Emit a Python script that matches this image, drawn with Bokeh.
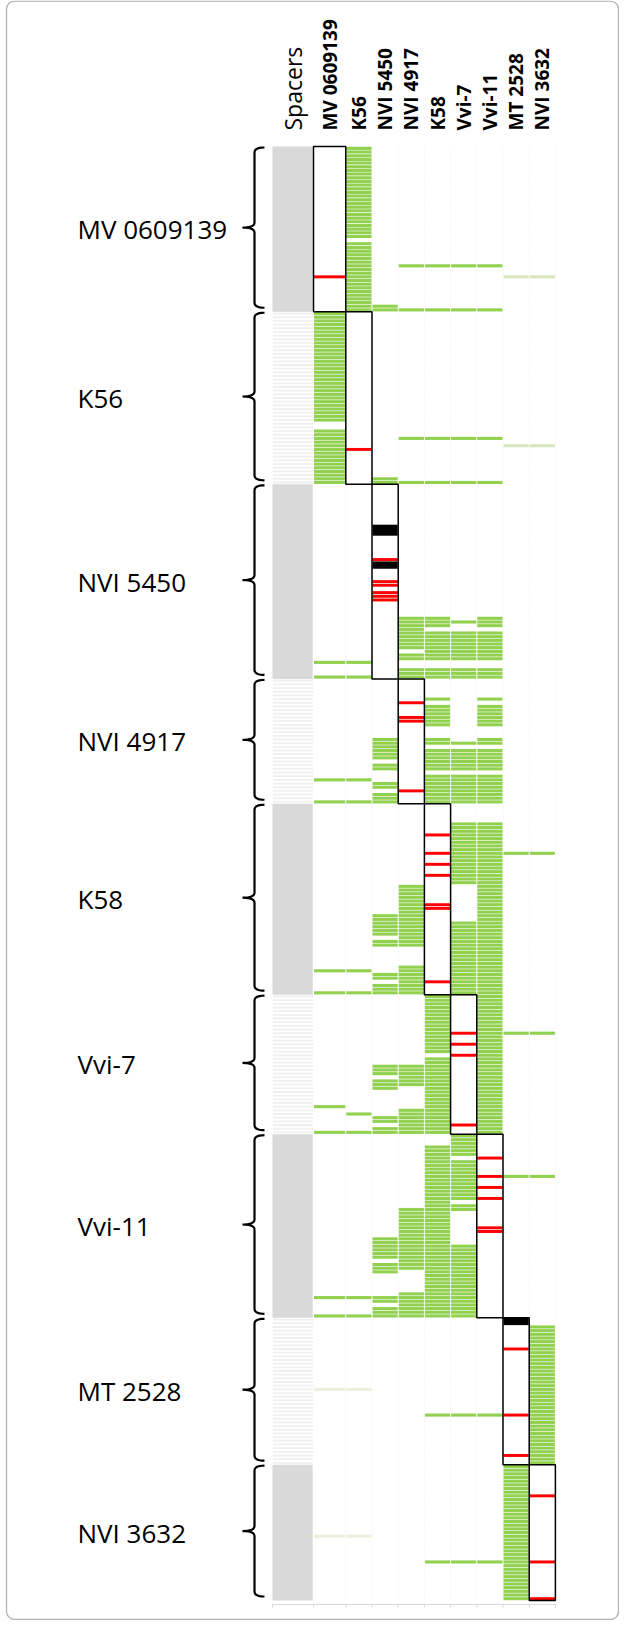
import numpy as np
from bokeh.plotting import figure
from bokeh.models import Range1d, BoxAnnotation
from bokeh.embed import file_html
from bokeh.resources import INLINE
from bokeh.core.properties import value

# ---------------- data ----------------
strains = ["MV 0609139", "K56", "NVI 5450", "NVI 4917", "K58", "Vvi-7", "Vvi-11", "MT 2528", "NVI 3632"]
spacer_header = "Spacers"
spacer_counts = [45, 47, 53, 34, 52, 38, 50, 40, 37]

# segments per block: (columns, first spacer, last spacer, kind)
# kinds: g = shared spacer, p = partial match, q = weak match, r = marked spacer, k = black (duplicated)
segs_MV_0609139 = [
    (["K56"], 0, 24, "g"), (["K56"], 26, 44, "g"),
    (["NVI 5450"], 43, 44, "g"),
    (["NVI 4917", "K58", "Vvi-7", "Vvi-11"], 32, 32, "g"),
    (["NVI 4917", "K58", "Vvi-7", "Vvi-11"], 44, 44, "g"),
    (["MT 2528", "NVI 3632"], 35, 35, "p"),
    (["MV 0609139"], 35, 35, "r"),
]
segs_K56 = [
    (["MV 0609139"], 0, 29, "g"), (["MV 0609139"], 32, 46, "g"),
    (["NVI 5450"], 45, 46, "g"),
    (["NVI 4917", "K58", "Vvi-7", "Vvi-11"], 34, 34, "g"),
    (["NVI 4917", "K58", "Vvi-7", "Vvi-11"], 46, 46, "g"),
    (["MT 2528", "NVI 3632"], 36, 36, "p"),
    (["K56"], 37, 37, "r"),
]
segs_NVI_5450 = [
    (["MV 0609139", "K56"], 48, 48, "g"), (["MV 0609139", "K56"], 52, 52, "g"),
    (["NVI 5450"], 11, 13, "k"), (["NVI 5450"], 20, 20, "r"), (["NVI 5450"], 21, 22, "k"),
    (["NVI 5450"], 26, 27, "r"), (["NVI 5450"], 29, 31, "r"),
    (["NVI 4917"], 36, 44, "g"), (["NVI 4917"], 46, 47, "g"),
    (["K58", "Vvi-11"], 36, 38, "g"), (["Vvi-7"], 37, 37, "g"),
    (["K58", "Vvi-7", "Vvi-11"], 40, 47, "g"),
    (["NVI 4917", "K58", "Vvi-7", "Vvi-11"], 50, 52, "g"),
]
segs_NVI_4917 = [
    (["MV 0609139", "K56"], 27, 27, "g"), (["MV 0609139", "K56"], 33, 33, "g"),
    (["NVI 5450"], 16, 21, "g"), (["NVI 5450"], 23, 24, "g"),
    (["NVI 5450"], 28, 29, "g"), (["NVI 5450"], 31, 33, "g"),
    (["NVI 4917"], 6, 6, "r"), (["NVI 4917"], 10, 11, "r"), (["NVI 4917"], 30, 30, "r"),
    (["K58", "Vvi-11"], 5, 5, "g"), (["K58", "Vvi-11"], 7, 12, "g"), (["K58", "Vvi-11"], 16, 17, "g"),
    (["Vvi-7"], 17, 17, "g"),
    (["K58", "Vvi-7", "Vvi-11"], 19, 24, "g"), (["K58", "Vvi-7", "Vvi-11"], 26, 33, "g"),
]
segs_K58 = [
    (["MV 0609139", "K56"], 45, 45, "g"), (["MV 0609139", "K56"], 51, 51, "g"),
    (["NVI 5450"], 30, 35, "g"), (["NVI 5450"], 37, 38, "g"),
    (["NVI 5450"], 46, 47, "g"), (["NVI 5450"], 49, 51, "g"),
    (["NVI 4917"], 22, 38, "g"), (["NVI 4917"], 44, 51, "g"),
    (["K58"], 8, 8, "r"), (["K58"], 13, 13, "r"), (["K58"], 16, 16, "r"),
    (["K58"], 19, 19, "r"), (["K58"], 27, 28, "r"), (["K58"], 48, 48, "r"),
    (["Vvi-7"], 5, 21, "g"), (["Vvi-7"], 32, 51, "g"),
    (["Vvi-11"], 5, 51, "g"),
    (["MT 2528", "NVI 3632"], 13, 13, "g"),
]
segs_Vvi_7 = [
    (["MV 0609139"], 30, 30, "g"), (["K56"], 32, 32, "g"), (["MV 0609139", "K56"], 37, 37, "g"),
    (["NVI 5450"], 19, 21, "g"), (["NVI 5450"], 23, 25, "g"),
    (["NVI 5450"], 33, 34, "g"), (["NVI 5450"], 36, 37, "g"),
    (["NVI 4917"], 19, 24, "g"), (["NVI 4917"], 31, 37, "g"),
    (["K58"], 0, 15, "g"), (["K58"], 17, 37, "g"),
    (["Vvi-7"], 10, 10, "r"), (["Vvi-7"], 13, 13, "r"), (["Vvi-7"], 16, 16, "r"), (["Vvi-7"], 35, 35, "r"),
    (["Vvi-11"], 0, 37, "g"),
    (["MT 2528", "NVI 3632"], 10, 10, "g"),
]
segs_Vvi_11 = [
    (["MV 0609139", "K56"], 44, 44, "g"), (["MV 0609139", "K56"], 49, 49, "g"),
    (["NVI 5450"], 28, 33, "g"), (["NVI 5450"], 35, 37, "g"),
    (["NVI 5450"], 44, 45, "g"), (["NVI 5450"], 47, 49, "g"),
    (["NVI 4917"], 20, 36, "g"), (["NVI 4917"], 43, 49, "g"),
    (["K58"], 3, 49, "g"),
    (["Vvi-7"], 0, 5, "g"), (["Vvi-7"], 7, 17, "g"), (["Vvi-7"], 19, 20, "g"), (["Vvi-7"], 30, 49, "g"),
    (["Vvi-11"], 6, 6, "r"), (["Vvi-11"], 11, 11, "r"), (["Vvi-11"], 14, 14, "r"),
    (["Vvi-11"], 17, 17, "r"), (["Vvi-11"], 25, 26, "r"),
    (["MT 2528", "NVI 3632"], 11, 11, "g"),
]
segs_MT_2528 = [
    (["MV 0609139", "K56"], 19, 19, "q"),
    (["MT 2528"], 0, 1, "k"), (["MT 2528"], 8, 8, "r"), (["MT 2528"], 26, 26, "r"), (["MT 2528"], 37, 37, "r"),
    (["NVI 3632"], 2, 39, "g"),
    (["K58", "Vvi-7", "Vvi-11"], 26, 26, "g"),
]
segs_NVI_3632 = [
    (["MV 0609139", "K56"], 19, 19, "q"),
    (["MT 2528"], 0, 36, "g"),
    (["NVI 3632"], 8, 8, "r"), (["NVI 3632"], 26, 26, "r"), (["NVI 3632"], 36, 36, "r"),
    (["K58", "Vvi-7", "Vvi-11"], 26, 26, "g"),
]
block_segments = [segs_MV_0609139, segs_K56, segs_NVI_5450, segs_NVI_4917, segs_K58,
                  segs_Vvi_7, segs_Vvi_11, segs_MT_2528, segs_NVI_3632]

# ---------------- layout / style ----------------
PLOT_TOP_PX, PLOT_BOTTOM_PX = 154, 1608
N = sum(spacer_counts)
ROW_PX = (PLOT_BOTTOM_PX - PLOT_TOP_PX) / N


def row_of(ypx):
    return (ypx - PLOT_TOP_PX) / ROW_PX


W, H = 619, 1620
SPACER_LEFT, SPACER_W = 280, 41
COL_W = [32.3] + [26.2] * 8
edges = [SPACER_LEFT + SPACER_W]
for w in COL_W:
    edges.append(edges[-1] + w)
col_left = {s: edges[i] for i, s in enumerate(strains)}
col_right = {s: edges[i + 1] for i, s in enumerate(strains)}

colors = {"g": "#92D050", "p": "#D7E4BC", "q": "#ECEFDD", "r": "#FF0000", "k": "#000000"}
heights = {"g": 0.84, "p": 0.84, "q": 0.84, "r": 0.8, "k": 1.0}

p = figure(width=W, height=H, x_range=Range1d(8, 8 + W),
           y_range=Range1d(row_of(8 + H), row_of(8)),
           x_axis_type=None, y_axis_type=None, output_backend="svg",
           toolbar_location=None, min_border=0)
p.grid.visible = False
p.outline_line_color = None
p.background_fill_color = "white"
p.border_fill_color = "white"

starts = np.concatenate([[0], np.cumsum(spacer_counts)[:-1]])

# faint column boundary guides
gx = edges[1:]
p.segment(x0=gx, x1=gx, y0=[0] * len(gx), y1=[N] * len(gx), line_color="#EDEDED",
          line_width=1, line_dash="1 2")

# spacer column
for b, (s0, n) in enumerate(zip(starts, spacer_counts)):
    if b % 2 == 0:
        p.quad(left=SPACER_LEFT, right=SPACER_LEFT + SPACER_W - 0.8, top=s0, bottom=s0 + n,
               fill_color="#D9D9D9", line_color=None)
    else:
        ys = s0 + np.arange(n) + 0.5
        p.rect(x=SPACER_LEFT + SPACER_W / 2, y=ys, width=SPACER_W - 0.8, height=0.5,
               fill_color="#EFEFEF", line_color=None)

# cells
cx, cy, cw, ch, cc = [], [], [], [], []
for b, segs in enumerate(block_segments):
    s0 = starts[b]
    for cols, a, z, kind in segs:
        for c in cols:
            l, r = col_left[c], col_right[c]
            if kind == "k":
                cx.append((l + r) / 2); cw.append(r - l - 1.0)
                cy.append(s0 + (a + z + 1) / 2); ch.append(z - a + 1)
                cc.append(colors[kind])
            else:
                for k in range(a, z + 1):
                    cx.append((l + r) / 2); cw.append(r - l - 1.0)
                    cy.append(s0 + k + 0.5); ch.append(heights[kind])
                    cc.append(colors[kind])
p.rect(x=cx, y=cy, width=cw, height=ch, fill_color=cc, line_color=None)

# own-strain boxes
p.quad(left=[col_left[s] for s in strains], right=[col_right[s] for s in strains],
       top=list(starts), bottom=list(starts + np.array(spacer_counts)),
       fill_color=None, line_color="black", line_width=1.5)


# braces
def quad_pts(p0, p1, p2, n=8):
    t = np.linspace(0, 1, n)
    x = (1 - t) ** 2 * p0[0] + 2 * (1 - t) * t * p1[0] + t ** 2 * p2[0]
    y = (1 - t) ** 2 * p0[1] + 2 * (1 - t) * t * p1[1] + t ** 2 * p2[1]
    return list(x), list(y)


XS, XH, XT, RR = 262, 272, 250, 5
bxs, bys = [], []
for s0, n in zip(starts, spacer_counts):
    t = PLOT_TOP_PX + s0 * ROW_PX + 1
    bt = PLOT_TOP_PX + (s0 + n) * ROW_PX - 4
    m = (t + bt) / 2
    xs, ys = [], []
    for seg in [((XH, t), (XS, t), (XS, t + RR)),
                ((XS, m - RR), (XS, m), (XT, m)),
                ((XT, m), (XS, m), (XS, m + RR)),
                ((XS, bt - RR), (XS, bt), (XH, bt))]:
        x_, y_ = quad_pts(*seg)
        xs += x_; ys += y_
    bxs.append(xs); bys.append([row_of(v) for v in ys])
p.multi_line(xs=bxs, ys=bys, line_color="black", line_width=2.2)

# block labels
mids = [s0 + n / 2 for s0, n in zip(starts, spacer_counts)]
p.text(x=[85] * len(strains), y=mids, text=strains, text_font=value("Open Sans"),
       text_font_size="26px", text_align="left", text_baseline="middle", text_color="black")

# column headers
hy = row_of(138)
p.text(x=[(col_left[s] + col_right[s]) / 2 for s in strains], y=[hy] * len(strains), text=strains,
       angle=np.pi / 2, text_font=value("Open Sans"), text_font_style="bold",
       text_font_size="19px", text_align="left", text_baseline="middle", text_color="black")
p.text(x=[SPACER_LEFT + SPACER_W / 2], y=[hy], text=[spacer_header], angle=np.pi / 2,
       text_font=value("Open Sans"), text_font_size="23px", text_align="left",
       text_baseline="middle", text_color="black")

# bottom axis
ay = row_of(1612)
p.segment(x0=[SPACER_LEFT], x1=[edges[-1]], y0=[ay], y1=[ay], line_color="#D9D9D9", line_width=1)
tx = [SPACER_LEFT] + edges
p.segment(x0=tx, x1=tx, y0=[ay] * len(tx), y1=[row_of(1615)] * len(tx), line_color="#D9D9D9", line_width=1)

# frame
p.add_layout(BoxAnnotation(left=14, right=626, top=row_of(8.7), bottom=row_of(1627),
                           fill_alpha=0, line_color="black", line_width=1.3, border_radius=8))

open("out.html", "w").write(file_html(p, INLINE))
